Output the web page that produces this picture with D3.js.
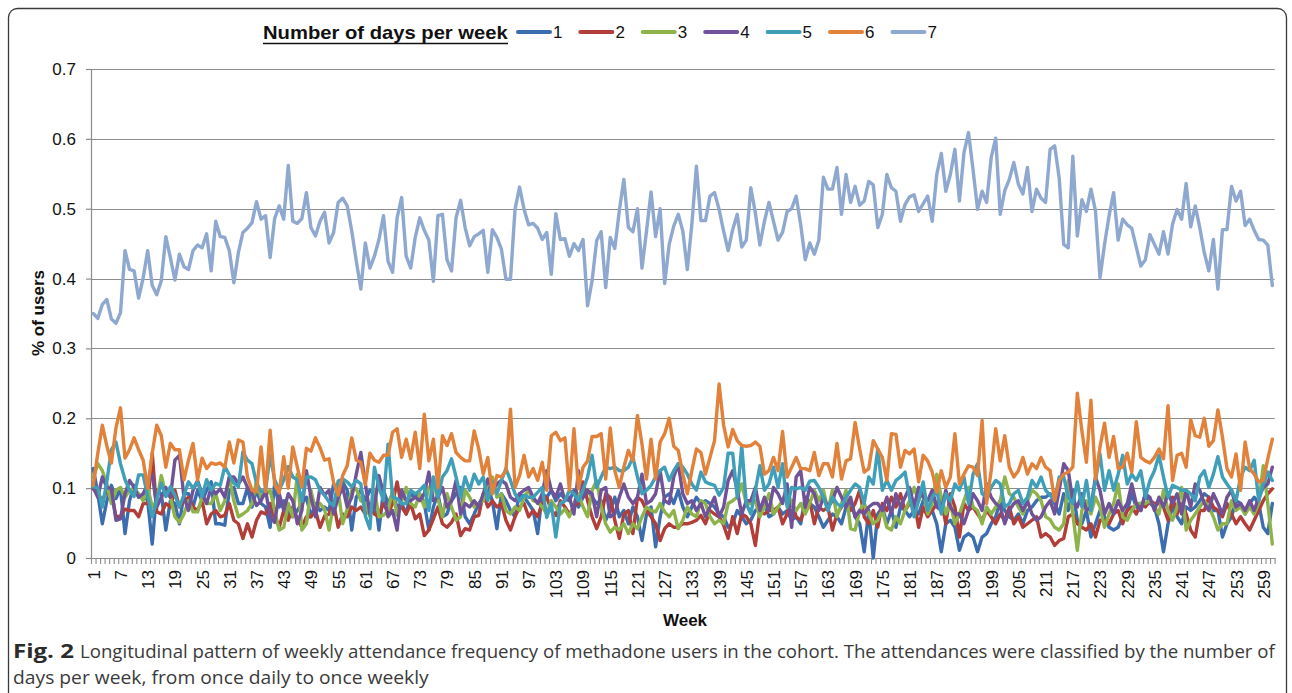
<!DOCTYPE html>
<html><head><meta charset="utf-8">
<script src="https://cdn.jsdelivr.net/npm/d3@7"></script>
<style>body{margin:0;background:#fff} svg{display:block}</style>
</head><body>
<svg id="c" width="1292" height="693"></svg>
<script>
const weeks = d3.range(1, 262);
const seriesNames = ["1","2","3","4","5","6","7"];
const xTickLabels = [1,7,13,19,25,31,37,43,49,55,61,67,73,79,85,91,97,103,109,115,121,127,133,139,145,151,157,163,169,175,181,187,193,199,205,211,217,223,229,235,241,247,253,259];
const yTicks = [0,0.1,0.2,0.3,0.4,0.5,0.6,0.7];
const yTickLabels = ["0","0.1","0.2","0.3","0.4","0.5","0.6","0.7"];

const s1 = [0.128,0.092,0.049,0.082,0.104,0.085,0.100,0.035,0.082,0.104,0.087,0.092,0.082,0.020,0.097,0.092,0.040,0.082,0.078,0.049,0.092,0.092,0.073,0.097,0.082,0.097,0.109,0.049,0.049,0.047,0.097,0.101,0.078,0.078,0.101,0.073,0.097,0.078,0.073,0.044,0.106,0.073,0.082,0.063,0.059,0.068,0.078,0.087,0.059,0.078,0.068,0.073,
0.068,0.106,0.092,0.109,0.097,0.040,0.087,0.097,0.082,0.097,0.092,0.040,0.097,0.078,0.092,0.073,0.078,0.063,0.092,0.087,0.092,0.078,0.040,0.073,0.092,0.059,0.063,0.082,0.092,0.101,0.059,0.049,0.063,0.078,0.087,0.101,0.082,0.042,0.092,0.082,0.068,0.059,0.092,0.087,0.078,0.068,0.035,0.092,0.087,0.097,0.082,0.092,0.085,
0.082,0.097,0.073,0.087,0.097,0.087,0.078,0.082,0.054,0.068,0.087,0.059,0.068,0.049,0.073,0.059,0.025,0.063,0.073,0.016,0.059,0.087,0.092,0.078,0.097,0.073,0.059,0.073,0.087,0.078,0.082,0.078,0.073,0.063,0.059,0.044,0.049,0.068,0.059,0.049,0.054,0.068,0.073,0.078,0.059,0.063,0.073,0.063,0.068,0.054,0.059,0.049,
0.087,0.078,0.073,0.059,0.044,0.054,0.063,0.059,0.049,0.073,0.082,0.059,0.049,0.009,0.068,0.000,0.063,0.073,0.049,0.068,0.044,0.073,0.068,0.059,0.068,0.063,0.082,0.073,0.068,0.049,0.009,0.049,0.054,0.044,0.011,0.030,0.035,0.030,0.009,0.030,0.035,0.049,0.059,0.082,0.068,0.059,0.054,0.063,0.049,0.068,0.073,0.082,0.087,
0.087,0.092,0.078,0.063,0.092,0.068,0.097,0.054,0.049,0.068,0.030,0.049,0.068,0.059,0.044,0.040,0.044,0.059,0.068,0.092,0.073,0.068,0.092,0.078,0.073,0.049,0.009,0.049,0.073,0.059,0.049,0.073,0.068,0.073,0.082,0.092,0.087,0.068,0.068,0.030,0.049,0.059,0.082,0.078,0.063,0.078,0.087,0.078,0.044,0.035,0.078];

const s2 = [0.099,0.092,0.082,0.097,0.095,0.059,0.060,0.070,0.068,0.068,0.059,0.078,0.078,0.150,0.066,0.063,0.078,0.073,0.097,0.073,0.082,0.087,0.073,0.068,0.082,0.049,0.063,0.068,0.059,0.061,0.078,0.054,0.049,0.028,0.049,0.030,0.054,0.066,0.063,0.078,0.059,0.044,0.068,0.054,0.073,0.056,0.044,0.059,0.059,0.068,0.044,0.060,
0.063,0.078,0.044,0.063,0.059,0.073,0.068,0.073,0.063,0.078,0.063,0.059,0.080,0.063,0.078,0.109,0.073,0.063,0.078,0.056,0.063,0.032,0.040,0.056,0.073,0.049,0.044,0.051,0.063,0.032,0.042,0.040,0.059,0.061,0.092,0.073,0.082,0.073,0.078,0.054,0.040,0.059,0.073,0.078,0.059,0.068,0.059,0.078,0.087,0.068,0.061,0.082,0.073,
0.063,0.073,0.078,0.109,0.082,0.059,0.042,0.059,0.092,0.087,0.054,0.028,0.063,0.068,0.035,0.087,0.082,0.068,0.059,0.049,0.025,0.042,0.049,0.044,0.044,0.049,0.049,0.051,0.054,0.061,0.049,0.068,0.063,0.059,0.047,0.028,0.059,0.035,0.063,0.059,0.049,0.018,0.068,0.063,0.068,0.068,0.073,0.049,0.063,0.082,0.059,0.054,
0.073,0.082,0.049,0.073,0.068,0.073,0.040,0.063,0.073,0.082,0.068,0.078,0.097,0.059,0.049,0.068,0.044,0.078,0.068,0.087,0.073,0.092,0.068,0.078,0.082,0.044,0.073,0.059,0.068,0.078,0.082,0.049,0.092,0.073,0.030,0.078,0.068,0.073,0.063,0.054,0.068,0.059,0.049,0.063,0.054,0.073,0.049,0.059,0.044,0.049,0.054,0.059,0.030,
0.035,0.030,0.018,0.025,0.028,0.059,0.063,0.049,0.044,0.040,0.049,0.030,0.054,0.054,0.049,0.063,0.068,0.049,0.068,0.073,0.063,0.078,0.073,0.082,0.078,0.078,0.073,0.054,0.087,0.063,0.078,0.063,0.040,0.030,0.068,0.068,0.087,0.073,0.068,0.059,0.078,0.063,0.049,0.059,0.049,0.040,0.054,0.068,0.082,0.092,0.099];

const s3 = [0.115,0.135,0.125,0.106,0.078,0.097,0.101,0.087,0.097,0.099,0.092,0.082,0.101,0.073,0.082,0.118,0.092,0.087,0.059,0.051,0.063,0.082,0.066,0.066,0.087,0.078,0.078,0.092,0.068,0.082,0.116,0.082,0.059,0.063,0.068,0.078,0.111,0.087,0.090,0.097,0.068,0.040,0.044,0.078,0.059,0.120,0.040,0.049,0.097,0.068,0.078,0.070,
0.040,0.078,0.097,0.049,0.070,0.097,0.099,0.082,0.078,0.059,0.097,0.059,0.061,0.068,0.097,0.061,0.082,0.101,0.078,0.073,0.092,0.073,0.101,0.106,0.085,0.059,0.092,0.073,0.054,0.059,0.097,0.087,0.073,0.078,0.082,0.109,0.116,0.087,0.092,0.068,0.063,0.073,0.068,0.087,0.097,0.082,0.080,0.073,0.063,0.082,0.073,0.063,0.070,
0.059,0.078,0.092,0.073,0.059,0.097,0.111,0.073,0.049,0.037,0.044,0.040,0.049,0.035,0.049,0.042,0.059,0.073,0.068,0.066,0.078,0.066,0.059,0.068,0.042,0.054,0.073,0.063,0.059,0.082,0.078,0.059,0.049,0.054,0.049,0.078,0.082,0.087,0.106,0.078,0.078,0.082,0.059,0.073,0.092,0.063,0.073,0.082,0.097,0.078,0.068,0.078,
0.063,0.078,0.097,0.082,0.097,0.068,0.097,0.059,0.078,0.097,0.042,0.040,0.068,0.078,0.063,0.049,0.054,0.068,0.044,0.040,0.059,0.049,0.068,0.082,0.101,0.082,0.097,0.063,0.078,0.120,0.087,0.063,0.078,0.049,0.063,0.082,0.101,0.073,0.068,0.049,0.073,0.063,0.073,0.082,0.116,0.092,0.087,0.073,0.063,0.082,0.097,0.092,0.082,
0.059,0.055,0.044,0.040,0.049,0.111,0.063,0.011,0.068,0.082,0.063,0.087,0.073,0.044,0.063,0.078,0.106,0.059,0.054,0.068,0.078,0.078,0.078,0.082,0.073,0.063,0.097,0.068,0.054,0.073,0.101,0.040,0.054,0.063,0.073,0.082,0.073,0.059,0.040,0.049,0.049,0.082,0.068,0.073,0.063,0.073,0.063,0.078,0.132,0.078,0.020];

const s4 = [0.101,0.087,0.116,0.101,0.099,0.054,0.056,0.092,0.111,0.101,0.087,0.092,0.106,0.120,0.073,0.087,0.101,0.087,0.140,0.147,0.087,0.068,0.097,0.111,0.092,0.078,0.101,0.092,0.099,0.087,0.116,0.116,0.106,0.116,0.101,0.092,0.075,0.082,0.097,0.059,0.051,0.092,0.068,0.092,0.082,0.049,0.068,0.125,0.087,0.059,0.101,0.090,
0.097,0.063,0.087,0.101,0.073,0.087,0.120,0.151,0.106,0.063,0.073,0.118,0.092,0.059,0.068,0.040,0.097,0.082,0.082,0.087,0.082,0.092,0.123,0.082,0.087,0.101,0.073,0.082,0.111,0.063,0.078,0.073,0.082,0.073,0.092,0.113,0.097,0.106,0.111,0.106,0.087,0.082,0.092,0.097,0.101,0.087,0.078,0.092,0.125,0.097,0.087,0.106,0.082,
0.087,0.063,0.125,0.087,0.097,0.092,0.059,0.097,0.101,0.059,0.063,0.087,0.106,0.087,0.078,0.087,0.120,0.078,0.082,0.092,0.125,0.082,0.078,0.116,0.135,0.092,0.078,0.082,0.068,0.078,0.059,0.073,0.087,0.059,0.073,0.111,0.125,0.097,0.063,0.082,0.082,0.101,0.068,0.087,0.068,0.101,0.092,0.078,0.106,0.044,0.116,0.125,
0.073,0.101,0.092,0.068,0.087,0.073,0.082,0.101,0.087,0.073,0.087,0.059,0.068,0.063,0.073,0.078,0.078,0.068,0.087,0.063,0.092,0.073,0.087,0.101,0.073,0.101,0.087,0.082,0.097,0.073,0.068,0.097,0.073,0.063,0.063,0.049,0.068,0.092,0.082,0.068,0.106,0.087,0.078,0.073,0.049,0.068,0.078,0.082,0.068,0.082,0.063,0.054,0.059,
0.073,0.082,0.063,0.097,0.135,0.125,0.082,0.073,0.092,0.068,0.073,0.116,0.097,0.063,0.078,0.063,0.082,0.068,0.078,0.106,0.078,0.068,0.092,0.087,0.068,0.087,0.073,0.092,0.078,0.092,0.063,0.097,0.073,0.106,0.097,0.078,0.068,0.092,0.078,0.063,0.087,0.097,0.073,0.078,0.068,0.082,0.068,0.087,0.101,0.106,0.130];

const s5 = [0.102,0.100,0.073,0.110,0.155,0.166,0.135,0.112,0.097,0.088,0.119,0.119,0.088,0.059,0.083,0.107,0.088,0.102,0.090,0.073,0.090,0.109,0.100,0.109,0.088,0.112,0.097,0.107,0.104,0.131,0.119,0.107,0.102,0.152,0.140,0.135,0.107,0.095,0.097,0.147,0.112,0.097,0.112,0.131,0.116,0.112,0.081,0.116,0.116,0.112,0.097,0.090,
0.080,0.075,0.110,0.113,0.109,0.102,0.111,0.106,0.060,0.042,0.130,0.101,0.082,0.163,0.087,0.085,0.078,0.078,0.097,0.092,0.097,0.104,0.068,0.116,0.087,0.116,0.125,0.142,0.116,0.087,0.116,0.097,0.120,0.106,0.116,0.082,0.109,0.092,0.111,0.128,0.111,0.092,0.082,0.090,0.087,0.087,0.094,0.101,0.058,0.078,0.030,0.078,0.082,
0.097,0.092,0.082,0.097,0.116,0.147,0.101,0.116,0.130,0.128,0.130,0.125,0.125,0.130,0.144,0.116,0.092,0.097,0.104,0.116,0.125,0.130,0.111,0.125,0.135,0.130,0.120,0.106,0.097,0.123,0.109,0.106,0.104,0.090,0.101,0.150,0.150,0.087,0.161,0.078,0.063,0.097,0.132,0.097,0.106,0.130,0.101,0.135,0.073,0.101,0.099,0.101,
0.097,0.110,0.111,0.101,0.087,0.068,0.087,0.078,0.073,0.087,0.097,0.106,0.101,0.078,0.116,0.106,0.156,0.097,0.111,0.097,0.111,0.116,0.123,0.087,0.059,0.082,0.109,0.068,0.087,0.097,0.063,0.092,0.082,0.106,0.097,0.116,0.078,0.120,0.135,0.092,0.087,0.101,0.111,0.106,0.073,0.078,0.092,0.097,0.078,0.087,0.111,0.101,0.116,
0.097,0.090,0.082,0.116,0.116,0.087,0.078,0.109,0.073,0.111,0.068,0.111,0.149,0.097,0.125,0.097,0.120,0.147,0.106,0.120,0.111,0.125,0.087,0.111,0.125,0.147,0.116,0.087,0.104,0.101,0.097,0.097,0.092,0.082,0.116,0.125,0.101,0.120,0.145,0.116,0.106,0.097,0.082,0.116,0.130,0.125,0.140,0.082,0.106,0.123,0.111];

const s6 = [0.104,0.150,0.190,0.160,0.136,0.186,0.215,0.143,0.155,0.172,
0.155,0.140,0.100,0.150,0.190,0.175,0.130,0.164,0.155,0.155,
0.112,0.140,0.164,0.112,0.143,0.128,0.136,0.134,0.136,0.130,
0.166,0.136,0.169,0.166,0.116,0.097,0.095,0.159,0.095,0.183,
0.105,0.093,0.145,0.100,0.159,0.130,0.102,0.157,0.153,0.172,
0.158,0.140,0.142,0.108,0.090,0.118,0.132,0.172,0.140,0.137,
0.105,0.150,0.140,0.137,0.147,0.147,0.180,0.185,0.144,0.170,
0.142,0.180,0.128,0.206,0.139,0.170,0.101,0.175,0.161,0.178,
0.151,0.144,0.139,0.139,0.182,0.156,0.120,0.144,0.092,0.118,
0.116,0.125,0.213,0.101,0.118,0.147,0.116,0.128,0.111,0.137,
0.097,0.175,0.180,0.168,0.172,0.097,0.185,0.099,0.130,0.139,
0.174,0.174,0.178,0.113,0.186,0.125,0.101,0.130,0.154,0.139,
0.204,0.163,0.113,0.170,0.113,0.166,0.178,0.200,0.160,0.154,
0.120,0.092,0.125,0.156,0.151,0.120,0.144,0.168,0.249,0.190,
0.159,0.184,0.168,0.161,0.160,0.161,0.166,0.160,0.120,0.125,
0.144,0.125,0.181,0.116,0.130,0.144,0.128,0.128,0.125,0.151,
0.118,0.135,0.135,0.116,0.164,0.113,0.139,0.142,0.194,0.156,
0.123,0.128,0.168,0.156,0.144,0.111,0.178,0.177,0.130,0.154,
0.149,0.156,0.109,0.147,0.139,0.123,0.094,0.125,0.101,0.116,
0.178,0.106,0.120,0.132,0.130,0.118,0.197,0.078,0.125,0.185,
0.139,0.175,0.130,0.116,0.125,0.144,0.120,0.135,0.128,0.144,
0.130,0.125,0.082,0.111,0.120,0.123,0.130,0.236,0.182,0.137,
0.226,0.113,0.159,0.193,0.144,0.174,0.128,0.130,0.150,0.123,
0.195,0.144,0.139,0.136,0.144,0.156,0.142,0.218,0.111,0.147,
0.150,0.130,0.198,0.175,0.173,0.200,0.160,0.168,0.212,0.173,
0.128,0.116,0.149,0.097,0.166,0.128,0.120,0.109,0.111,0.142,
0.170];

const s7 = [0.350,0.343,0.363,0.370,0.342,0.336,0.351,0.440,0.413,0.411,
0.372,0.401,0.440,0.390,0.377,0.397,0.460,0.430,0.398,0.435,
0.417,0.413,0.440,0.448,0.444,0.464,0.411,0.482,0.460,0.459,
0.440,0.394,0.437,0.466,0.472,0.480,0.510,0.485,0.490,0.430,
0.486,0.504,0.485,0.562,0.482,0.479,0.486,0.523,0.473,0.461,
0.482,0.495,0.451,0.466,0.509,0.515,0.504,0.468,0.425,0.385,
0.451,0.415,0.432,0.456,0.490,0.425,0.409,0.487,0.516,0.432,
0.415,0.459,0.487,0.469,0.455,0.396,0.490,0.492,0.427,0.411,
0.487,0.512,0.473,0.447,0.460,0.464,0.469,0.409,0.470,0.459,
0.442,0.399,0.399,0.499,0.531,0.499,0.477,0.479,0.472,0.456,
0.466,0.406,0.493,0.456,0.457,0.432,0.450,0.440,0.456,0.361,
0.397,0.454,0.467,0.387,0.459,0.443,0.497,0.542,0.473,0.467,
0.500,0.415,0.468,0.524,0.460,0.500,0.393,0.449,0.475,0.492,
0.468,0.413,0.478,0.561,0.483,0.483,0.518,0.523,0.499,0.468,
0.440,0.470,0.492,0.445,0.455,0.530,0.494,0.448,0.482,0.509,
0.482,0.455,0.466,0.496,0.500,0.518,0.477,0.427,0.451,0.435,
0.455,0.545,0.528,0.528,0.559,0.492,0.549,0.509,0.532,0.505,
0.511,0.539,0.534,0.473,0.492,0.549,0.530,0.525,0.482,0.506,
0.517,0.520,0.496,0.507,0.518,0.482,0.549,0.579,0.525,0.549,
0.585,0.511,0.580,0.609,0.556,0.499,0.525,0.509,0.573,0.601,
0.492,0.526,0.542,0.566,0.535,0.521,0.559,0.496,0.528,0.515,
0.509,0.585,0.590,0.544,0.449,0.444,0.575,0.461,0.513,0.496,
0.528,0.497,0.401,0.449,0.490,0.523,0.455,0.485,0.477,0.472,
0.445,0.418,0.427,0.463,0.449,0.435,0.467,0.435,0.478,0.499,
0.485,0.536,0.474,0.504,0.473,0.437,0.411,0.456,0.385,0.470,
0.470,0.532,0.511,0.525,0.476,0.485,0.469,0.456,0.455,0.448,
0.390];

const seriesValues = [s1, s2, s3, s4, s5, s6, s7];
const colors = ["#3C6EAF","#B13E39","#8DB34A","#6F5297","#3F9FB8","#E1813A","#8EA8CF"];

const FONT = "'Liberation Sans', Arial, Helvetica, sans-serif";
const svg = d3.select("#c");
const L = 91, R = 1274.6, T = 69, B = 558;
const x = d3.scaleLinear().domain([0.5, 261.5]).range([L, R]);
const y = d3.scaleLinear().domain([0, 0.7]).range([B, T]);

// outer frame
svg.append("rect").attr("x", 8.5).attr("y", 8.5).attr("width", 1278).attr("height", 760)
  .attr("rx", 9).attr("fill", "none").attr("stroke", "#3a3a3a").attr("stroke-width", 1.3);

// gridlines
svg.append("g").selectAll("line").data(yTicks.slice(1)).join("line")
  .attr("x1", L).attr("x2", R)
  .attr("y1", d => Math.round(y(d)) + 0.5).attr("y2", d => Math.round(y(d)) + 0.5)
  .attr("stroke", "#8c8c8c").attr("stroke-width", 1.2);

// y axis
const gy = svg.append("g").attr("transform", `translate(${L},0)`)
  .call(d3.axisLeft(y).tickValues(yTicks).tickFormat((d, i) => yTickLabels[i]).tickSize(5).tickPadding(10));
gy.selectAll("path,line").attr("stroke", "#8c8c8c").attr("stroke-width", 1.2);
gy.select(".domain").attr("d", `M0.5,${T}V${B}`);
gy.selectAll("text").attr("font-family", FONT).attr("font-size", 17).attr("fill", "#111");

// x axis minor ticks between categories
const bounds = weeks.map(w => w - 0.5).concat([261.5]);
const gx = svg.append("g").attr("transform", `translate(0,${B})`)
  .call(d3.axisBottom(x).tickValues(bounds).tickFormat("").tickSize(6).tickSizeOuter(0));
gx.selectAll("path,line").attr("stroke", "#8c8c8c").attr("stroke-width", 1.1);

// x labels
const gxl = svg.append("g").attr("transform", `translate(0,${B})`)
  .call(d3.axisBottom(x).tickValues(xTickLabels).tickSize(0).tickFormat(d => String(d)));
gxl.select(".domain").remove();
gxl.selectAll("text").attr("font-family", FONT).attr("font-size", 17).attr("fill", "#111")
  .attr("transform", "rotate(-90)").attr("text-anchor", "end")
  .attr("x", -12).attr("y", 0).attr("dy", "0.35em");

// lines
const line = d3.line().x((d, i) => x(weeks[i])).y(d => y(d));
svg.append("g").selectAll("path").data(seriesValues).join("path")
  .attr("d", d => line(d)).attr("fill", "none")
  .attr("stroke", (d, i) => colors[i]).attr("stroke-width", 3.4)
  .attr("stroke-linejoin", "round").attr("stroke-linecap", "round");

// axis titles
svg.append("text").attr("transform", "translate(44,313) rotate(-90)").attr("text-anchor", "middle")
  .attr("font-family", FONT).attr("font-size", 17).attr("font-weight", "bold").attr("fill", "#111").text("% of users");
svg.append("text").attr("x", 685).attr("y", 626).attr("text-anchor", "middle")
  .attr("font-family", FONT).attr("font-size", 17).attr("font-weight", "bold").attr("fill", "#111").text("Week");

// helper: fit a text to a target width by horizontal scaling
function fitText(sel, x0, y0, width) {
  const w = sel.node().getComputedTextLength();
  const sx = w > 0 ? width / w : 1;
  sel.attr("x", 0).attr("y", 0).attr("transform", `translate(${x0},${y0}) scale(${sx},1)`);
}

// legend
const lt = svg.append("text").attr("font-family", FONT).attr("font-size", 18)
  .attr("font-weight", "bold").attr("fill", "#111").text("Number of days per week");
fitText(lt, 263, 39, 245);
svg.append("line").attr("x1", 263).attr("x2", 508).attr("y1", 43.5).attr("y2", 43.5).attr("stroke", "#111").attr("stroke-width", 1.5);
const lg = svg.append("g").selectAll("g").data(seriesNames).join("g")
  .attr("transform", (d, i) => `translate(${518 + i * 62.4},32)`);
lg.append("line").attr("x1", 0).attr("x2", 32).attr("y1", 0).attr("y2", 0)
  .attr("stroke", (d, i) => colors[i]).attr("stroke-width", 4).attr("stroke-linecap", "round");
lg.append("text").attr("x", 35).attr("y", 6).attr("font-family", FONT).attr("font-size", 17).attr("fill", "#111").text(d => d);

// caption
const CF = "'Open Sans', 'Noto Sans', sans-serif";
const c0 = svg.append("text").attr("font-family", CF).attr("font-size", 19).attr("font-weight", "bold")
  .attr("fill", "#2b2b2b").text("Fig. 2");
fitText(c0, 13, 658, 61);
const c1 = svg.append("text").attr("font-family", CF).attr("font-size", 19).attr("fill", "#3a3a3a")
  .text("Longitudinal pattern of weekly attendance frequency of methadone users in the cohort. The attendances were classified by the number of");
fitText(c1, 80, 658, 1196);
const c2 = svg.append("text").attr("font-family", CF).attr("font-size", 19).attr("fill", "#3a3a3a")
  .text("days per week, from once daily to once weekly");
fitText(c2, 13, 684, 416);
</script>
</body></html>
